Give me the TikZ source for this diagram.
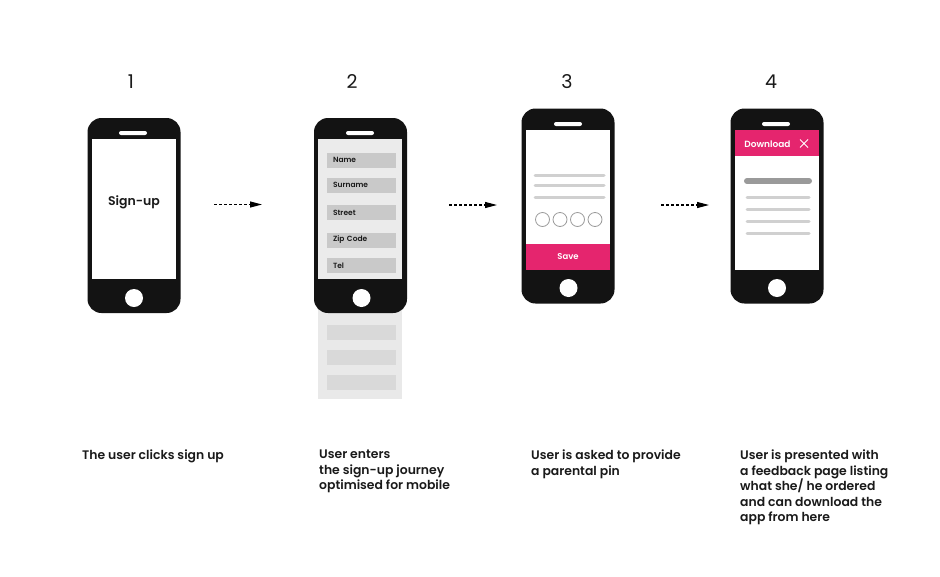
\documentclass[tikz,border=0pt]{standalone}
\usepackage{fontspec}
\setmainfont{Poppins}[BoldFont={Poppins SemiBold}]
\usetikzlibrary{arrows.meta}

\definecolor{phoneblack}{HTML}{131313}
\definecolor{pinkbar}{HTML}{E5256E}
\definecolor{fieldgrey}{HTML}{C9C9C9}
\definecolor{screengrey}{HTML}{EBEBEB}
\definecolor{pagegrey}{HTML}{E9E9E9}
\definecolor{rowgrey}{HTML}{D9D9D9}
\definecolor{linegrey}{HTML}{D0D0D0}
\definecolor{bargrey}{HTML}{9A9A9A}
\definecolor{textblack}{HTML}{1A1A1A}

\tikzset{
	phone/.style={fill=phoneblack, rounded corners=14pt, minimum width=93pt, minimum height=195pt, inner sep=0pt},
	screen/.style={fill=white, minimum width=84pt, minimum height=140pt, inner sep=0pt},
	slot/.style={fill=white, rounded corners=2pt, minimum width=28pt, minimum height=4pt, inner sep=0pt},
	homebtn/.style={circle, fill=white, minimum size=18pt, inner sep=0pt},
	stepno/.style={font=\fontsize{19}{23}\selectfont, text=textblack},
	caption/.style={anchor=north west, align=left, inner sep=0pt, font=\bfseries\fontsize{12.4}{15.5}\selectfont, text=textblack},
	field/.style={fill=fieldgrey, minimum width=69pt, minimum height=15pt, inner xsep=6pt, inner ysep=0pt, text width=57pt, align=left, font=\bfseries\fontsize{7.5}{9}\selectfont, text=textblack},
	pinkbox/.style={fill=pinkbar, minimum width=84pt, minimum height=26pt, inner sep=0pt, text=white, font=\bfseries\fontsize{8.5}{10}\selectfont},
	pinbox/.style={circle, draw=bargrey, line width=0.8pt, minimum size=14pt, inner sep=0pt},
	flow/.style={dash pattern=on 3pt off 2pt, line width=1.1pt, -{Triangle[length=12pt,width=6pt]}}
}

\begin{document}
\begin{tikzpicture}[x=1pt,y=-1pt]
	\useasboundingbox[fill=white] (0,0) rectangle (940,576);

	% step numbers
	\node[stepno] (n1) at (131,82) {1};
	\node[stepno] (n2) at (352,82) {2};
	\node[stepno] (n3) at (567,82) {3};
	\node[stepno] (n4) at (771,82) {4};

	% phone 1
	\node[phone] (p1) at (134,215.5) {};
	\node[screen] (s1) at (134,209) {};
	\node[slot] at (133,133) {};
	\node[homebtn] (h1) at (134,298) {};
	\node[font=\bfseries\fontsize{12.5}{15}\selectfont, text=textblack] (signup) at (134,202) {Sign-up};

	% phone 2, long page behind
	\fill[pagegrey] (318,270) rectangle (402,399);
	\node[fill=rowgrey, minimum width=69pt, minimum height=15pt, inner sep=0pt] (r1) at (361.5,332.5) {};
	\node[fill=rowgrey, minimum width=69pt, minimum height=15pt, inner sep=0pt] (r2) at (361.5,357.5) {};
	\node[fill=rowgrey, minimum width=69pt, minimum height=15pt, inner sep=0pt] (r3) at (361.5,382.5) {};
	\node[phone] (p2) at (360.5,215.5) {};
	\node[screen, fill=screengrey] (s2) at (360,209) {};
	\node[slot] at (360,133) {};
	\node[homebtn] (h2) at (361.5,298) {};
	\node[field] (fname) at (361.5,160) {Name};
	\node[field] (fsurname) at (361.5,185) {Surname};
	\node[field] (fstreet) at (361.5,212.5) {Street};
	\node[field] (fzip) at (361.5,240) {Zip Code};
	\node[field] (ftel) at (361.5,265.5) {Tel};

	% phone 3
	\node[phone] (p3) at (568,206) {};
	\node[screen] (s3) at (568,200) {};
	\node[slot] at (568,124) {};
	\node[homebtn] (h3) at (568.5,288) {};
	\node[pinkbox] (save) at (568,257) {Save};
	\draw[linegrey, line width=3pt, line cap=round] (535,175) -- (604,175);
	\draw[linegrey, line width=3pt, line cap=round] (535,185) -- (604,185);
	\draw[linegrey, line width=3pt, line cap=round] (535,197) -- (604,197);
	\node[pinbox] (pin1) at (542.5,219.5) {};
	\node[pinbox] (pin2) at (560,219.5) {};
	\node[pinbox] (pin3) at (577.5,219.5) {};
	\node[pinbox] (pin4) at (595,219.5) {};

	% phone 4
	\node[phone] (p4) at (777,206) {};
	\node[screen] (s4) at (777,200) {};
	\node[slot] at (776,124) {};
	\node[homebtn] (h4) at (777,288) {};
	\node[pinkbox] (dlbar) at (777,143) {};
	\node[text=white, font=\bfseries\fontsize{9}{11}\selectfont] (dl) at (767.5,144) {Download};
	\draw[white, line width=0.8pt] (800,139.5) -- (808,147.5) (800,147.5) -- (808,139.5);
	\draw[bargrey, line width=6pt, line cap=round] (747,181) -- (809,181);
	\draw[linegrey, line width=3pt, line cap=round] (747,197) -- (809,197);
	\draw[linegrey, line width=3pt, line cap=round] (747,209.5) -- (809,209.5);
	\draw[linegrey, line width=3pt, line cap=round] (747,221.5) -- (809,221.5);
	\draw[linegrey, line width=3pt, line cap=round] (747,233.5) -- (809,233.5);

	% arrows
	\coordinate (a1s) at (214,204.5);
	\coordinate (a1e) at (262,204.5);
	\coordinate (a2s) at (449,205);
	\coordinate (a2e) at (497,205);
	\coordinate (a3s) at (661,205);
	\coordinate (a3e) at (709,205);
	\draw[flow] (a1s) -- (a1e);
	\draw[flow] (a2s) -- (a2e);
	\draw[flow] (a3s) -- (a3e);

	% captions
	\node[caption] (c1) at (82,450) {The user clicks sign up};
	\node[caption] (c2) at (319,450) {User enters\\the sign-up journey\\optimised for mobile};
	\node[caption] (c3) at (531,450) {User is asked to provide\\a parental pin};
	\node[caption] (c4) at (740,450) {User is presented with\\a feedback page listing\\what she/ he ordered\\and can download the\\app from here};
\end{tikzpicture}
\end{document}
